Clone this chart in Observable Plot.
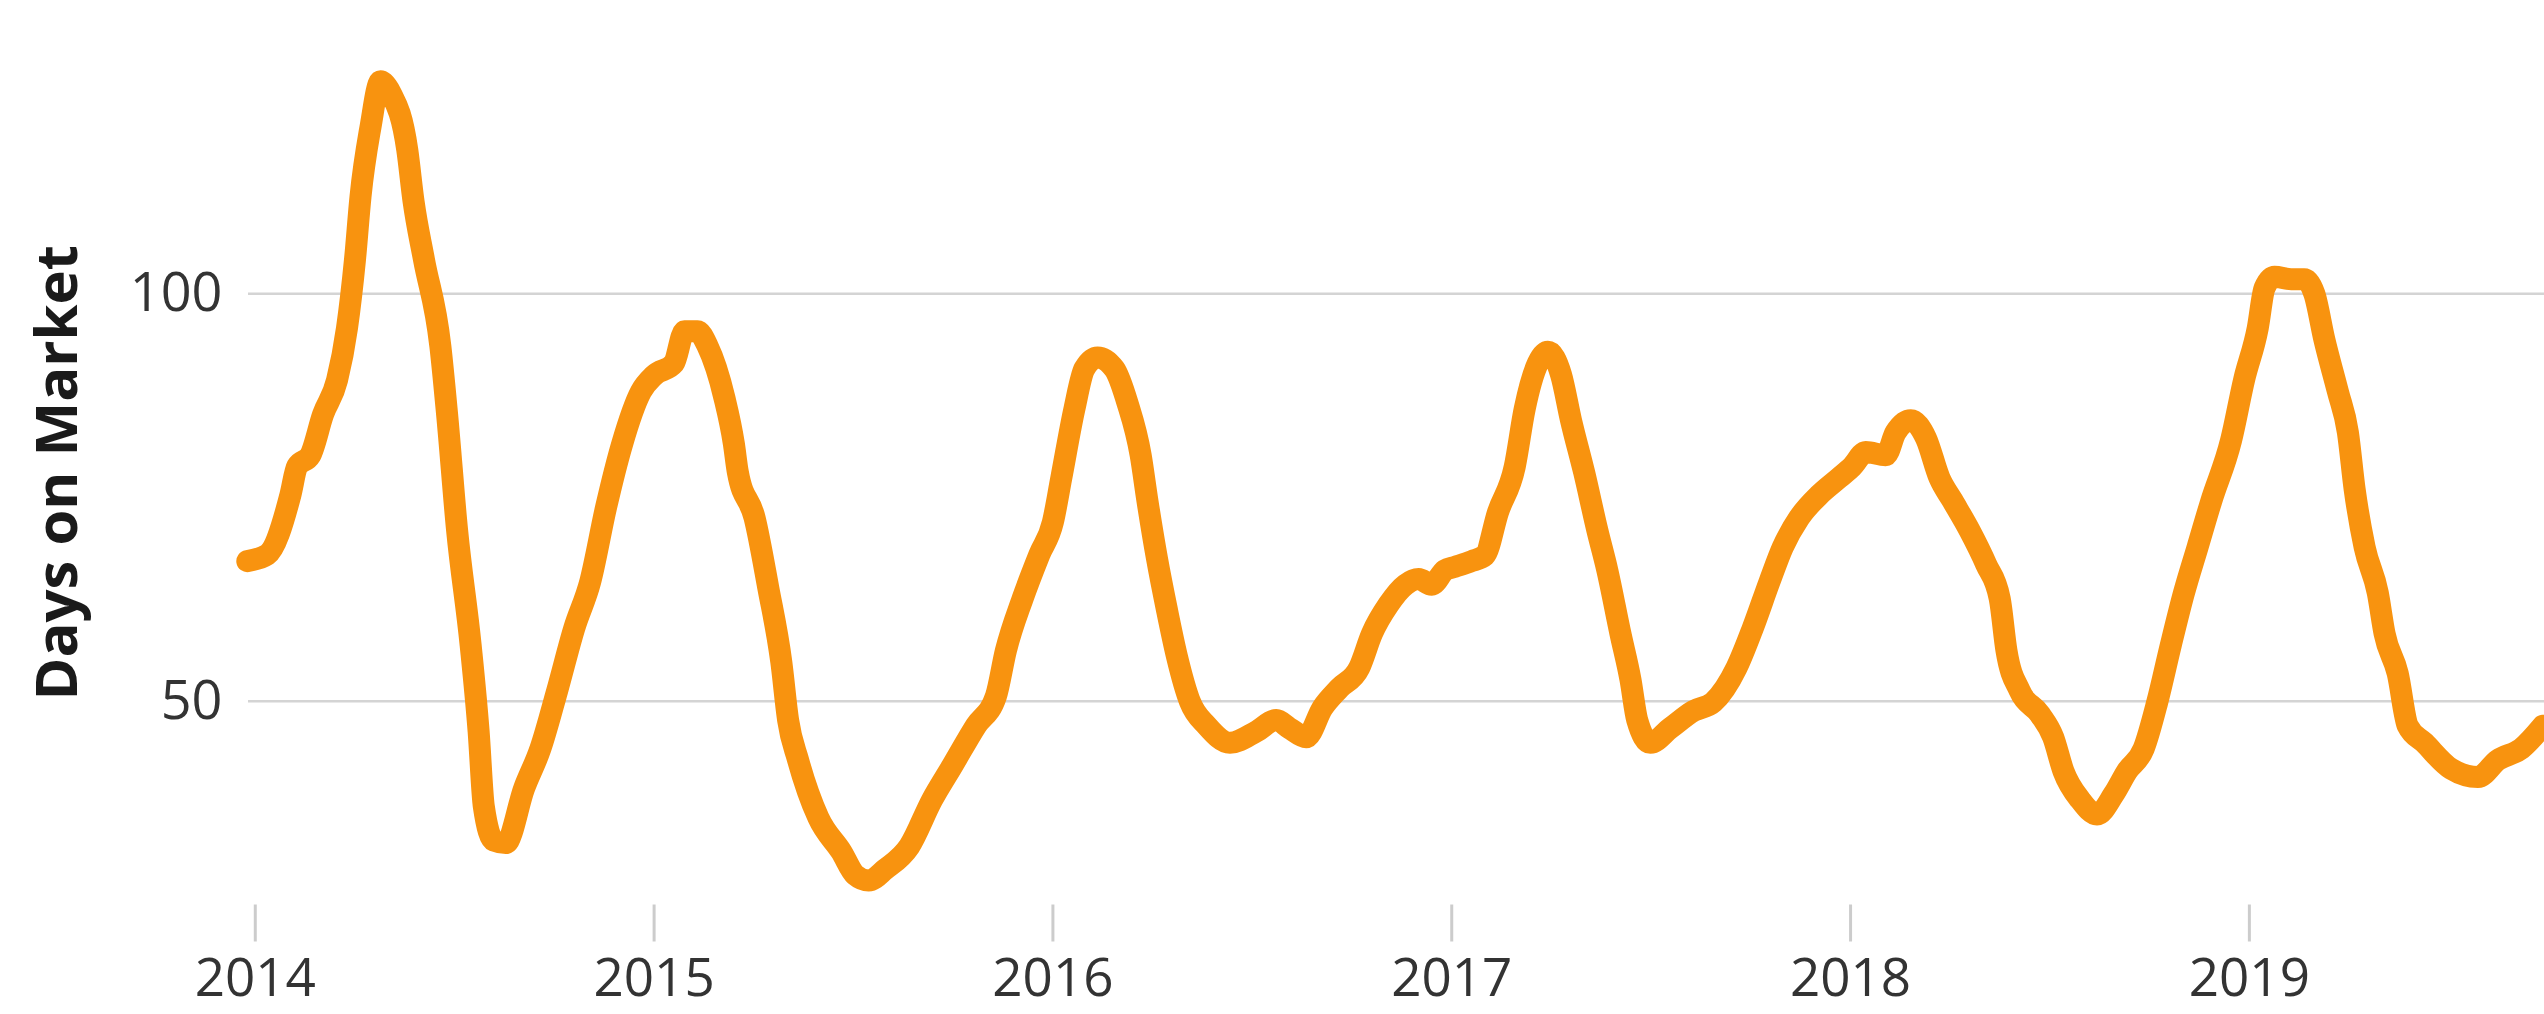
<!DOCTYPE html>
<html>
<head>
<meta charset="utf-8">
<script src="https://cdn.jsdelivr.net/npm/d3@7"></script>
<script src="https://cdn.jsdelivr.net/npm/@observablehq/plot@0.6"></script>
<style>
  html, body { margin: 0; padding: 0; background: #ffffff; overflow: hidden; }
  #chart svg { display: block; }
</style>
</head>
<body>
<div id="chart"></div>
<script>
// Decimal-year positions
const years = [
  2013.98, 2014.03, 2014.088, 2014.105, 2014.138, 2014.17, 2014.205, 2014.23, 2014.25, 2014.264,
  2014.289, 2014.314, 2014.339, 2014.381, 2014.397, 2014.423, 2014.464, 2014.481, 2014.506, 2014.54,
  2014.56, 2014.573, 2014.598, 2014.628, 2014.674, 2014.715, 2014.757, 2014.8, 2014.84, 2014.88,
  2014.92, 2014.967, 2015.0, 2015.05, 2015.076, 2015.109, 2015.134, 2015.176, 2015.2, 2015.21,
  2015.252, 2015.286, 2015.319, 2015.336, 2015.361, 2015.412, 2015.47, 2015.504, 2015.538, 2015.58,
  2015.64, 2015.697, 2015.748, 2015.807, 2015.857, 2015.882, 2015.924, 2015.966, 2016.0, 2016.021,
  2016.054, 2016.079, 2016.112, 2016.154, 2016.187, 2016.22, 2016.237, 2016.261, 2016.286, 2016.311,
  2016.344, 2016.386, 2016.444, 2016.51, 2016.56, 2016.593, 2016.635, 2016.676, 2016.718, 2016.768,
  2016.8, 2016.842, 2016.884, 2016.917, 2016.95, 2016.983, 2017.008, 2017.05, 2017.083, 2017.116,
  2017.158, 2017.183, 2017.216, 2017.241, 2017.274, 2017.299, 2017.332, 2017.365, 2017.39, 2017.423,
  2017.448, 2017.465, 2017.498, 2017.548, 2017.606, 2017.656, 2017.714, 2017.755, 2017.797, 2017.83,
  2017.871, 2017.921, 2017.971, 2018.004, 2018.038, 2018.088, 2018.113, 2018.151, 2018.189, 2018.223,
  2018.256, 2018.298, 2018.34, 2018.374, 2018.391, 2018.424, 2018.475, 2018.508, 2018.534, 2018.576,
  2018.618, 2018.66, 2018.693, 2018.735, 2018.769, 2018.803, 2018.836, 2018.87, 2018.904, 2018.954,
  2018.987, 2019.021, 2019.038, 2019.063, 2019.105, 2019.138, 2019.163, 2019.188, 2019.222, 2019.247,
  2019.264, 2019.289, 2019.322, 2019.339, 2019.372, 2019.397, 2019.439, 2019.506, 2019.573, 2019.623,
  2019.682, 2019.736
];

// Days on market values
const daysOnMarket = [
  67.2, 68, 75.3, 78.8, 80.2, 85.2, 89.4, 95.8, 104.2, 112,
  120.5, 126.1, 124.7, 117.7, 111.3, 104.2, 93.6, 85.2, 71, 56.9,
  46.3, 37.1, 32.9, 32.6, 39.3, 44.2, 51.3, 59, 64.7, 73.9,
  81.6, 88, 90, 91.5, 95.4, 95.4, 93.6, 87.3, 81.6, 78.1,
  72.5, 64, 54.8, 47.7, 42.8, 35.7, 31.5, 28.7, 28, 29.4,
  32.2, 37.9, 42.1, 47, 50.6, 56.2, 62.6, 68, 72, 77.4,
  85.9, 90.8, 92.2, 90.8, 86.6, 80.2, 74.6, 67.5, 61.2, 55.5,
  49.9, 47, 44.9, 46.3, 47.7, 46.7, 45.6, 49.2, 51.6, 54.1,
  58.3, 61.9, 64.3, 65, 64.3, 66.1, 66.5, 67.2, 67.9, 73.2,
  78.8, 85.9, 91.5, 92.9, 90.1, 84.5, 78.1, 71, 66.1, 58.3,
  52.7, 47.7, 44.9, 46.7, 48.8, 49.9, 54.1, 59, 64.7, 68.9,
  72.5, 75.3, 77.4, 78.8, 80.6, 80.2, 83, 84.5, 82.3, 77.4,
  74.6, 71, 66.8, 62.6, 56.2, 51.3, 48.4, 45.6, 41.4, 37.9,
  36.1, 38.6, 41.4, 44.2, 49.9, 56.9, 63.3, 68.9, 74.5, 82,
  89.5, 95.8, 100.7, 102.1, 101.8, 101.8, 100, 94.4, 88, 83,
  76, 68.9, 63.3, 58.3, 53.4, 47, 44.9, 41.7, 40.7, 42.8,
  44.2, 47
];

const xTickYears = [2014, 2015, 2016, 2017, 2018, 2019];
const yTickValues = [50, 100];
const yLabel = "Days on Market";

const data = years.map((t, i) => ({t, days: daysOnMarket[i]}));

const chart = Plot.plot({
  width: 2544,
  height: 1014,
  marginLeft: 248,
  marginRight: 0,
  marginTop: 0,
  marginBottom: 109.5,
  style: {fontFamily: "'Open Sans', sans-serif", background: "#ffffff", overflow: "hidden"},
  x: {domain: [2013.983, 2019.74], label: null},
  y: {domain: [25, 136], label: null},
  marks: [
    Plot.ruleY(yTickValues, {stroke: "#d4d4d4", strokeWidth: 2.5}),
    Plot.axisX(xTickYears, {
      tickSize: 37, tickPadding: 16, fontSize: 53,
      tickFormat: d => String(d),
      stroke: "#cccccc", strokeWidth: 3, fill: "#333333", label: null
    }),
    Plot.axisY(yTickValues, {
      tickSize: 0, tickPadding: 26, fontSize: 54,
      fill: "#333333", label: null
    }),
    Plot.line(data, {
      x: "t", y: "days",
      stroke: "#f8930f", strokeWidth: 22,
      curve: "monotone-x", strokeLinejoin: "round", strokeLinecap: "round"
    }),
    Plot.text([yLabel], {
      text: d => d,
      frameAnchor: "left", dx: -190, dy: 20, rotate: -90,
      fontSize: 58, fontWeight: "bold", fill: "#1a1a1a",
      fontFamily: "'Open Sans', sans-serif", lineAnchor: "middle", textAnchor: "middle"
    })
  ]
});

document.getElementById("chart").appendChild(chart);
</script>
</body>
</html>
